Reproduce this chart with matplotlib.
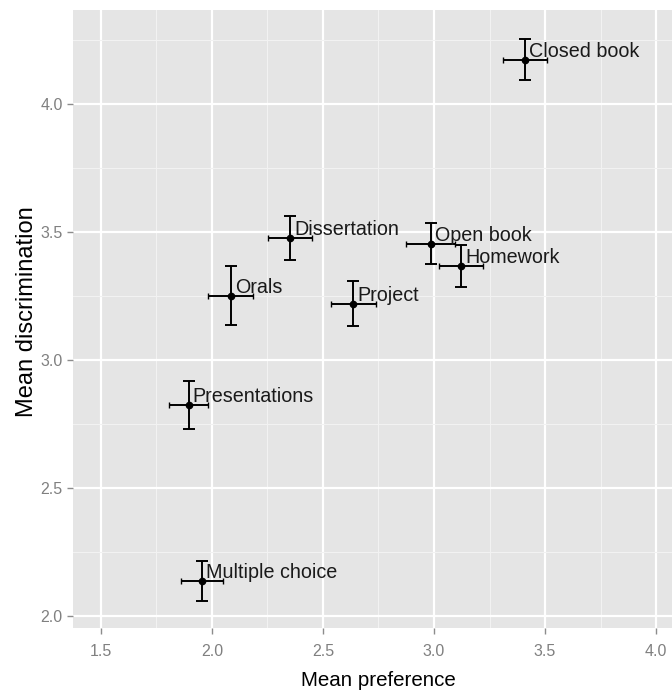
import matplotlib
matplotlib.use("Agg")
import matplotlib.pyplot as plt
from matplotlib.ticker import MultipleLocator

names = ["Closed book", "Open book", "Homework", "Project", "Dissertation",
         "Orals", "Presentations", "Multiple choice"]
pref = [3.41, 2.986, 3.122, 2.637, 2.351, 2.084, 1.895, 1.956]
pref_err = [0.098, 0.11, 0.099, 0.1, 0.1, 0.1, 0.088, 0.094]
disc = [4.174, 3.455, 3.370, 3.221, 3.477, 3.252, 2.824, 2.137]
disc_err = [0.08, 0.08, 0.082, 0.088, 0.086, 0.115, 0.093, 0.078]
xticks = [1.5, 2.0, 2.5, 3.0, 3.5, 4.0]
yticks = [2.0, 2.5, 3.0, 3.5, 4.0]

plt.rcParams['font.family'] = ['Liberation Sans', 'DejaVu Sans']

W, H = 672, 690
fig = plt.figure(figsize=(W/100, H/100), dpi=100)
ax = fig.add_axes([73/W, 62/H, 1 - 73/W, (628-10)/H])
ax.set_facecolor("#E5E5E5")
for s in ax.spines.values():
    s.set_visible(False)

ax.set_xlim(1.374, 4.072)
ax.set_ylim(1.953, 4.369)
ax.set_xticks(xticks)
ax.set_yticks(yticks)
ax.xaxis.set_minor_locator(MultipleLocator(0.25))
ax.yaxis.set_minor_locator(MultipleLocator(0.25))
ax.grid(which="major", color="white", linewidth=1.6)
ax.grid(which="minor", color="#F2F2F2", linewidth=0.8)
ax.set_axisbelow(True)
ax.tick_params(which="major", length=4.5, width=1, color="#8C8C8C",
               labelcolor="#808080")
ax.tick_params(axis="x", pad=7)
ax.tick_params(axis="y", pad=3)
ax.tick_params(which="minor", length=0)
ax.set_xticklabels([f"{v:.1f}" for v in xticks], fontsize=11.5)
ax.set_yticklabels([f"{v:.1f}" for v in yticks], fontsize=11.5)

ax.errorbar(pref, disc, yerr=disc_err, fmt="none", ecolor="black",
            elinewidth=1.4, capsize=4, capthick=1.4)
ax.errorbar(pref, disc, xerr=pref_err, fmt="none", ecolor="black",
            elinewidth=1.4, capsize=2.0, capthick=1.0)
ax.plot(pref, disc, "o", color="black", markersize=4.5)

for n, x, y in zip(names, pref, disc):
    ax.annotate(n, (x, y), xytext=(3, 2), textcoords="offset points",
                ha="left", va="baseline", fontsize=14.2, color="#1a1a1a")

fig.text(378.5/W, 1 - 686/H, "Mean preference", ha="center", va="baseline",
         fontsize=14.8, color="black")
fig.text(33/W, 1 - 312/H, "Mean discrimination", ha="center", va="baseline",
         rotation=90, rotation_mode="anchor", fontsize=17, color="black")

fig.savefig("out.png", dpi=100)
